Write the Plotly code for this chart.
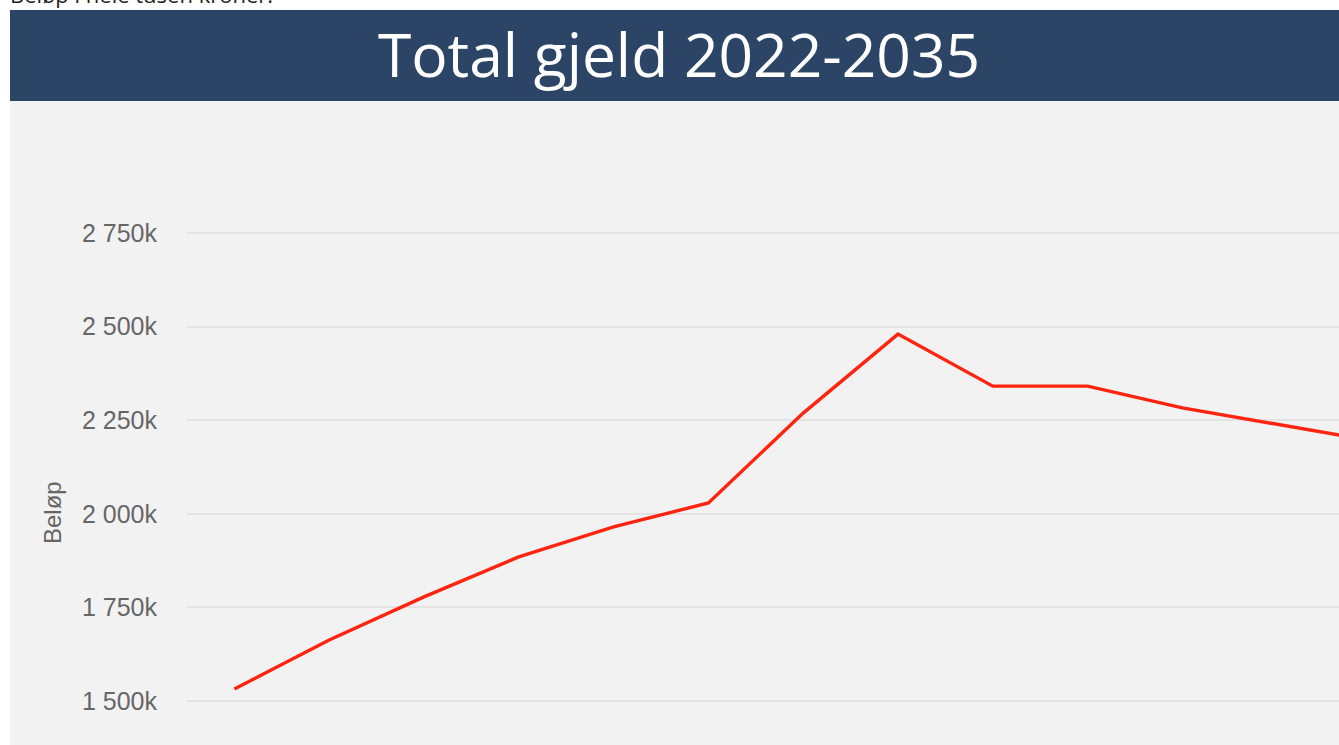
import plotly.graph_objects as go

# ---- data (amounts in thousand NOK) ----
years = [2022, 2023, 2024, 2025, 2026, 2027, 2028, 2029, 2030, 2031, 2032, 2033, 2034]
total_gjeld = [1532, 1663, 1778, 1885, 1965, 2029, 2269, 2480, 2341, 2341, 2283, 2239, 2195]
tick_vals = [1500, 1750, 2000, 2250, 2500, 2750]
tick_text = ["1 500k", "1 750k", "2 000k", "2 250k", "2 500k", "2 750k"]
title_text = "Total gjeld 2022-2035"
subtitle_text = "Beløp i hele tusen kroner."
y_title = "Beløp"

# ---- layout geometry (pixels) ----
W, H = 1339, 745
ML, MR, MT, MB = 187, 0, 125, 0
PW, PH = W - ML - MR, H - MT - MB


def px_x(p):
    return (p - ML) / PW


def px_y(p):
    return 1 - (p - MT) / PH


BG = "#f2f2f2"
BAND = "#2c4566"
RED = "#ff2410"

fig = go.Figure()
fig.add_trace(go.Scatter(
    x=years, y=total_gjeld, mode="lines",
    line=dict(color=RED, width=3.4),
    hoverinfo="x+y", showlegend=False,
))

fig.update_layout(
    template="none",
    width=W, height=H,
    margin=dict(l=ML, r=MR, t=MT, b=MB, pad=0),
    paper_bgcolor="white",
    plot_bgcolor=BG,
    title=dict(
        text=title_text, xref="container", yref="container",
        x=679 / W, xanchor="center", y=1 - 56 / H, yanchor="middle",
        font=dict(family="Open Sans", size=60.5, color="white"),
    ),
    xaxis=dict(
        range=[years[0] - 0.5, years[0] - 0.5 + PW / 94.8],
        showgrid=False, zeroline=False, showline=False,
        showticklabels=False, ticks="", automargin=False,
    ),
    yaxis=dict(
        range=[1500 - (745 - 701) * 1250 / 468, 1500 + (701 - MT) * 1250 / 468],
        tickvals=tick_vals, ticktext=tick_text,
        tickfont=dict(family="Liberation Sans, Arial", size=25, color="#666666"),
        showgrid=True, gridcolor="#e3e3e3", gridwidth=2,
        zeroline=False, showline=False, ticks="",
        ticklabelstandoff=29, automargin=False,
    ),
    shapes=[
        dict(type="rect", xref="paper", yref="paper", layer="below",
             x0=px_x(10), x1=px_x(W + 5), y0=px_y(H + 5), y1=px_y(101),
             fillcolor=BG, line=dict(width=0)),
        dict(type="rect", xref="paper", yref="paper", layer="below",
             x0=px_x(10), x1=px_x(W + 5), y0=px_y(101), y1=px_y(10),
             fillcolor=BAND, line=dict(width=0)),
    ],
    annotations=[
        dict(text=subtitle_text, xref="paper", yref="paper",
             x=px_x(8), xanchor="left", y=px_y(11), yanchor="bottom",
             showarrow=False, font=dict(family="Open Sans", size=22, color="#222222")),
        dict(text=y_title, xref="paper", yref="paper", textangle=-90,
             x=px_x(52), xanchor="center", y=px_y(513), yanchor="middle",
             showarrow=False, font=dict(family="Liberation Sans, Arial", size=24, color="#666666")),
    ],
)

fig.write_html("out.html")
